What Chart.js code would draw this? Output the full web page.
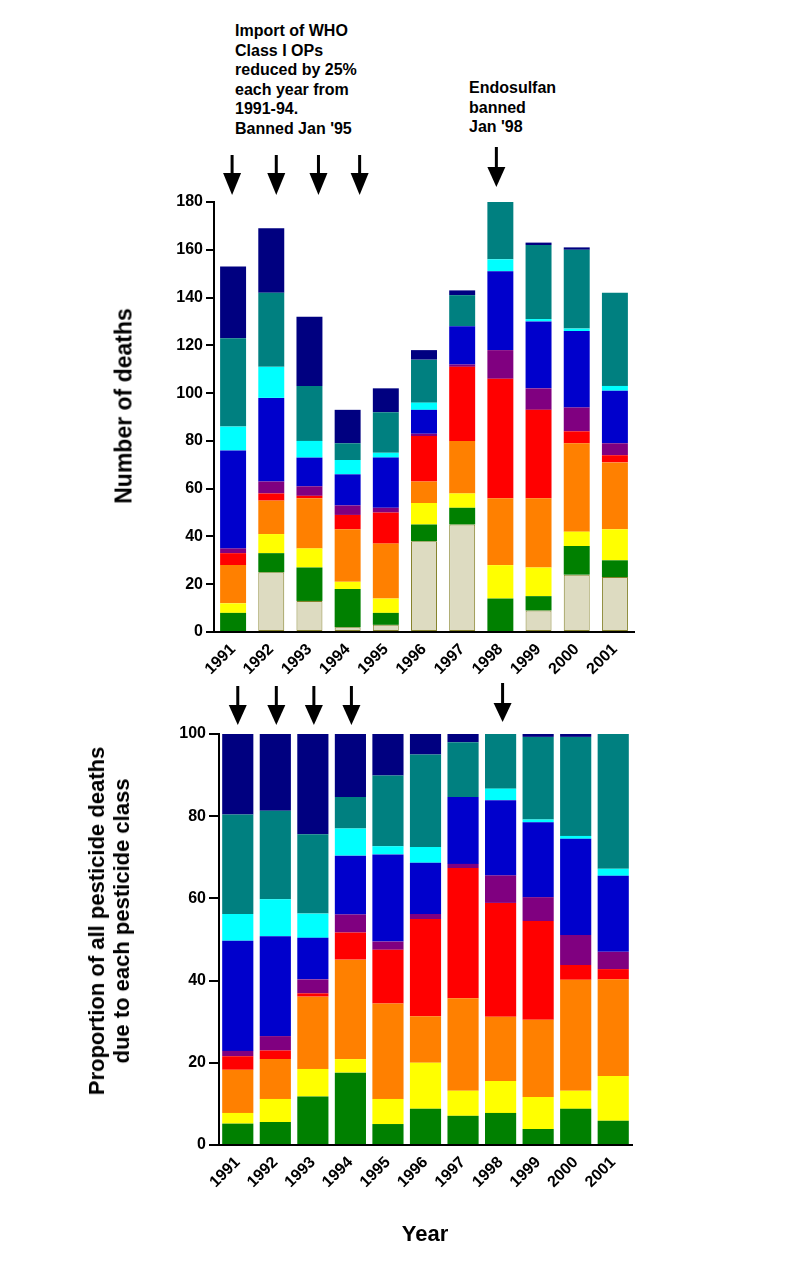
<!DOCTYPE html>
<html>
<head>
<meta charset="utf-8">
<title>Pesticide deaths by class</title>
<script src="https://cdn.jsdelivr.net/npm/chart.js@4.4.1/dist/chart.umd.min.js"></script>
<style>
  body { margin: 0; background: #fff; width: 788px; height: 1276px; position: relative; overflow: hidden;
         font-family: "Liberation Sans", Arial, sans-serif; color: #000; }
  canvas { position: absolute; left: 0; }
  #count-chart { top: 0; }
  #share-chart { top: 640px; }
  .note { position: absolute; font-weight: bold; font-size: 16px; line-height: 19.5px; white-space: nowrap; }
  .title { position: absolute; font-weight: bold; font-size: 22px; line-height: 25px; text-align: center;
           white-space: nowrap; transform: translate(-50%, -50%); }
  .title.rot { transform: translate(-50%, -50%) rotate(-90deg); }
</style>
</head>
<body>
<div class="note" style="left:235px; top:21px;">Import of WHO<br>Class I OPs<br>reduced by 25%<br>each year from<br>1991-94.<br>Banned Jan '95</div>
<div class="note" style="left:469px; top:78px;">Endosulfan<br>banned<br>Jan '98</div>

<canvas id="count-chart" width="788" height="700"></canvas>
<canvas id="share-chart" width="788" height="636"></canvas>

<div class="title rot" style="left:124px; top:406px; font-size:23px;">Number of deaths</div>
<div class="title rot" style="left:109px; top:921px;">Proportion of all pesticide deaths<br>due to each pesticide class</div>
<div class="title" style="left:425px; top:1233px;">Year</div>

<script>
// Years on the x axis
const years = ['1991', '1992', '1993', '1994', '1995', '1996', '1997', '1998', '1999', '2000', '2001'];

// Number of deaths per class (bottom of stack first)
const beigeDeaths  = [0, 25, 13, 2, 3, 38, 45, 0, 9, 24, 23];
const greenDeaths  = [8, 8, 14, 16, 5, 7, 7, 14, 6, 12, 7];
const yellowDeaths = [4, 8, 8, 3, 6, 9, 6, 14, 12, 6, 13];
const orangeDeaths = [16, 14, 21, 22, 23, 9, 22, 28, 29, 37, 28];
const redDeaths    = [5, 3, 1, 6, 13, 19, 31, 50, 37, 5, 3];
const purpleDeaths = [2, 5, 4, 4, 2, 1, 1, 12, 9, 10, 5];
const blueDeaths   = [41, 35, 12, 13, 21, 10, 16, 33, 28, 32, 22];
const cyanDeaths   = [10, 13, 7, 6, 2, 3, 0, 5, 1, 1, 2];
const tealDeaths   = [37, 31, 23, 7, 17, 18, 13, 24, 31, 33, 39];
const navyDeaths   = [30, 27, 29, 14, 10, 4, 2, 0, 1, 1, 0];

// Proportion (%) of deaths per class, lower chart
const greenShare  = [5.2, 5.6, 11.8, 17.6, 5.1, 8.8, 7.1, 7.8, 3.9, 8.8, 5.9];
const yellowShare = [2.6, 5.6, 6.7, 3.3, 6.1, 11.2, 6.1, 7.8, 7.8, 4.4, 10.9];
const orangeShare = [10.5, 9.7, 17.6, 24.2, 23.2, 11.3, 22.5, 15.6, 18.8, 27.0, 23.5];
const redShare    = [3.3, 2.1, 0.8, 6.6, 13.1, 23.7, 31.7, 27.7, 24.0, 3.6, 2.5];
const purpleShare = [1.3, 3.5, 3.4, 4.4, 2.0, 1.2, 1.0, 6.7, 5.8, 7.3, 4.2];
const blueShare   = [26.8, 24.3, 10.1, 14.3, 21.2, 12.5, 16.3, 18.3, 18.2, 23.4, 18.5];
const cyanShare   = [6.5, 9.0, 5.9, 6.6, 2.0, 3.8, 0, 2.8, 0.7, 0.7, 1.7];
const tealShare   = [24.2, 21.5, 19.3, 7.7, 17.2, 22.5, 13.3, 13.3, 20.1, 24.1, 32.8];
const navyShare   = [19.6, 18.7, 24.4, 15.3, 10.1, 5.0, 2.0, 0, 0.7, 0.7, 0];

// Axis ticks
const countTicks = [0, 20, 40, 60, 80, 100, 120, 140, 160, 180];
const shareTicks = [0, 20, 40, 60, 80, 100];

// Arrows for the policy changes
const importArrowYears = ['1991', '1992', '1993', '1994'];
const endoArrowYears = ['1998'];

const FONT = '"Liberation Sans", Arial, sans-serif';
const COLORS = {
  beige: '#DDDBC1', green: '#008000', yellow: '#FFFF00', orange: '#FF8000', red: '#FF0000',
  purple: '#800080', blue: '#0000CC', cyan: '#00FFFF', teal: '#008080', navy: '#000080'
};

function makeSet(values, color, barPct) {
  return {
    data: values,
    backgroundColor: COLORS[color],
    borderColor: color === 'beige' ? '#85822A' : COLORS[color],
    borderWidth: color === 'beige' ? 1 : 0,
    borderSkipped: false,
    barPercentage: barPct,
    categoryPercentage: 1.0
  };
}

// Draws the down arrows above the bars
const arrowPlugin = {
  id: 'arrows',
  afterDraw(chart, args, opts) {
    const { ctx, chartArea } = chart;
    const x = chart.scales.x;
    ctx.save();
    ctx.fillStyle = '#000';
    ctx.strokeStyle = '#000';
    ctx.lineWidth = 3;
    opts.groups.forEach(g => {
      g.years.forEach((yr, i) => {
        // the hand-placed arrows drift a little from the bar centres
        const cx = x.getPixelForValue(years.indexOf(yr)) + (g.shift ? g.shift[i] : 0);
        const tip = chartArea.top - g.gap;
        const headTop = tip - g.head;
        ctx.beginPath();
        ctx.moveTo(cx, tip - g.len);
        ctx.lineTo(cx, headTop + 1);
        ctx.stroke();
        ctx.beginPath();
        ctx.moveTo(cx - 9, headTop);
        ctx.lineTo(cx + 9, headTop);
        ctx.lineTo(cx, tip);
        ctx.closePath();
        ctx.fill();
      });
    });
    ctx.restore();
  }
};

function axisOptions(tickValues, max, yWidth, xHeight, tickLen) {
  return {
    x: {
      stacked: true,
      grid: { display: false, drawTicks: false },
      border: { display: true, color: '#000', width: 2 },
      ticks: {
        color: '#000', font: { family: FONT, size: 16, weight: 'bold' },
        minRotation: 45, maxRotation: 45, autoSkip: false, padding: 8
      },
      afterFit: axis => { axis.height = xHeight; }
    },
    y: {
      stacked: true,
      min: 0,
      max: max,
      afterBuildTicks: axis => { axis.ticks = tickValues.map(v => ({ value: v })); },
      grid: { drawOnChartArea: false, drawTicks: true, tickLength: tickLen, color: '#000', lineWidth: 2 },
      border: { display: true, color: '#000', width: 2 },
      ticks: { color: '#000', font: { family: FONT, size: 16, weight: 'bold' }, padding: 3 },
      afterFit: axis => { axis.width = yWidth; }
    }
  };
}

function buildCharts() {
  // Upper chart: number of deaths
  new Chart(document.getElementById('count-chart'), {
    type: 'bar',
    data: {
      labels: years,
      datasets: [
        makeSet(beigeDeaths, 'beige', 0.68),
        makeSet(greenDeaths, 'green', 0.68),
        makeSet(yellowDeaths, 'yellow', 0.68),
        makeSet(orangeDeaths, 'orange', 0.68),
        makeSet(redDeaths, 'red', 0.68),
        makeSet(purpleDeaths, 'purple', 0.68),
        makeSet(blueDeaths, 'blue', 0.68),
        makeSet(cyanDeaths, 'cyan', 0.68),
        makeSet(tealDeaths, 'teal', 0.68),
        makeSet(navyDeaths, 'navy', 0.68)
      ]
    },
    options: {
      responsive: false,
      animation: false,
      devicePixelRatio: 1,
      layout: { padding: { top: 202, right: 154, bottom: 0, left: 0 } },
      plugins: {
        legend: { display: false },
        tooltip: { enabled: false },
        arrows: {
          groups: [
            { years: importArrowYears, gap: 7, head: 22, len: 40, shift: [-1, 5, 9, 12] },
            { years: endoArrowYears, gap: 15, head: 20, len: 40, shift: [-4] }
          ]
        }
      },
      scales: axisOptions(countTicks, 180, 214, 68, 8)
    },
    plugins: [arrowPlugin]
  });

  // Lower chart: proportion of deaths
  new Chart(document.getElementById('share-chart'), {
    type: 'bar',
    data: {
      labels: years,
      datasets: [
        makeSet(greenShare, 'green', 0.83),
        makeSet(yellowShare, 'yellow', 0.83),
        makeSet(orangeShare, 'orange', 0.83),
        makeSet(redShare, 'red', 0.83),
        makeSet(purpleShare, 'purple', 0.83),
        makeSet(blueShare, 'blue', 0.83),
        makeSet(cyanShare, 'cyan', 0.83),
        makeSet(tealShare, 'teal', 0.83),
        makeSet(navyShare, 'navy', 0.83)
      ]
    },
    options: {
      responsive: false,
      animation: false,
      devicePixelRatio: 1,
      layout: { padding: { top: 94, right: 156, bottom: 0, left: 0 } },
      plugins: {
        legend: { display: false },
        tooltip: { enabled: false },
        arrows: {
          groups: [
            { years: importArrowYears, gap: 9, head: 20, len: 39, shift: [0, 1, 1, 1] },
            { years: endoArrowYears, gap: 12, head: 19, len: 39, shift: [2] }
          ]
        }
      },
      scales: axisOptions(shareTicks, 100, 219, 131, 10)
    },
    plugins: [arrowPlugin]
  });
}

document.addEventListener('DOMContentLoaded', buildCharts);
</script>
</body>
</html>
